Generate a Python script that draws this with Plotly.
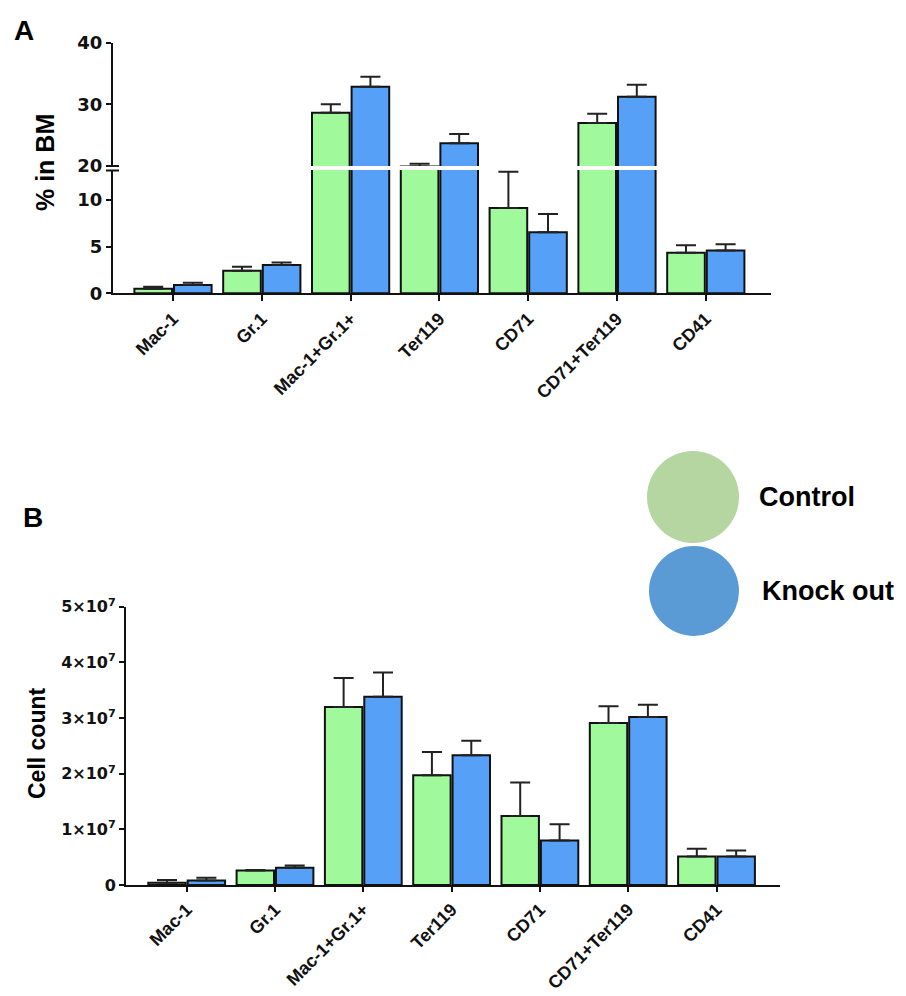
import plotly.graph_objects as go

# ---------------- data ----------------
categories = ["Mac-1", "Gr.1", "Mac-1+Gr.1+", "Ter119", "CD71", "CD71+Ter119", "CD41"]
series_names = ["Control", "Knock out"]

# Panel A: % in BM
pct_control = [0.50, 2.42, 28.65, 19.90, 9.14, 26.97, 4.35]
pct_control_err = [0.20, 0.43, 1.35, 0.45, 3.86, 1.51, 0.79]
pct_ko = [0.89, 3.03, 32.86, 23.68, 6.53, 31.24, 4.57]
pct_ko_err = [0.25, 0.27, 1.62, 1.51, 1.97, 1.95, 0.68]

# Panel B: cell count
count_control = [0.04e7, 0.26e7, 3.20e7, 1.97e7, 1.24e7, 2.91e7, 0.51e7]
count_control_err = [0.05e7, 0.01e7, 0.52e7, 0.42e7, 0.60e7, 0.30e7, 0.14e7]
count_ko = [0.08e7, 0.31e7, 3.38e7, 2.33e7, 0.80e7, 3.02e7, 0.51e7]
count_ko_err = [0.05e7, 0.04e7, 0.44e7, 0.26e7, 0.29e7, 0.22e7, 0.11e7]

pct_lower_ticks = [0, 5, 10]
pct_upper_ticks = [20, 30, 40]
count_ticks = [0, 1e7, 2e7, 3e7, 4e7, 5e7]
count_ticktext = ["0", "1×10<sup>7</sup>", "2×10<sup>7</sup>", "3×10<sup>7</sup>",
                  "4×10<sup>7</sup>", "5×10<sup>7</sup>"]

# ---------------- style ----------------
W, H = 906, 996
BAR_COLORS = ["#a0fa9c", "#56a0f8"]
LEG_COLORS = ["#b5d5a1", "#5b9bd5"]
FONT = "Liberation Sans, Arial"
NUMFONT = "DejaVu Sans"
TICKFONT = dict(family=NUMFONT, size=18, color="#111", weight=700)
CATFONT = dict(family=FONT, size=18, color="#111", weight=700)


def px_x(p):
    return p / W


def px_y(p):
    return 1 - p / H


fig = go.Figure()


def add_bars(vals, errs, color, name, xa, ya):
    fig.add_trace(go.Bar(
        x=categories, y=vals, name=name, xaxis=xa, yaxis=ya, showlegend=False,
        marker=dict(color=color, line=dict(color="#111", width=2)),
        error_y=dict(type="data", symmetric=False, array=errs,
                     arrayminus=[0] * len(errs), color="#222", thickness=2, width=10),
    ))


pct_sets = [(pct_control, pct_control_err), (pct_ko, pct_ko_err)]
count_sets = [(count_control, count_control_err), (count_ko, count_ko_err)]
for i, name in enumerate(series_names):
    add_bars(pct_sets[i][0], pct_sets[i][1], BAR_COLORS[i], name, "x", "y")
    add_bars(pct_sets[i][0], pct_sets[i][1], BAR_COLORS[i], name, "x2", "y2")
    add_bars(count_sets[i][0], count_sets[i][1], BAR_COLORS[i], name, "x3", "y3")

axis_common = dict(showline=True, linecolor="#111", linewidth=2, showgrid=False,
                   zeroline=False, ticks="outside", tickcolor="#111", tickwidth=2,
                   automargin=False)

rangeA = [(113 - 173) / 88.8, (771 - 173) / 88.8]
rangeB = [(126 - 186.7) / 88.3, (780 - 186.7) / 88.3]

fig.update_layout(
    width=W, height=H,
    margin=dict(l=0, r=0, t=0, b=0, pad=0, autoexpand=False),
    paper_bgcolor="white", plot_bgcolor="white",
    barmode="group", bargap=0.108, bargroupgap=0.05,
    xaxis=dict(domain=[px_x(113), px_x(771)], anchor="y", type="category", range=rangeA,
               ticklen=6, tickangle=-45, tickfont=CATFONT, **axis_common),
    yaxis=dict(domain=[px_y(293.3), px_y(170)], anchor="x", range=[0, 13.2],
               tickvals=pct_lower_ticks, ticklen=5, tickfont=TICKFONT, **axis_common),
    xaxis2=dict(domain=[px_x(113), px_x(771)], anchor="y2", type="category", range=rangeA,
                visible=False, automargin=False),
    yaxis2=dict(domain=[px_y(166), px_y(42.7)], anchor="x2", range=[20, 40],
                tickvals=pct_upper_ticks, ticklen=5, tickfont=TICKFONT, **axis_common),
    xaxis3=dict(domain=[px_x(126), px_x(780)], anchor="y3", type="category", range=rangeB,
                ticklen=5, tickangle=-45, tickfont=CATFONT, **axis_common),
    yaxis3=dict(domain=[px_y(885), px_y(606.7)], anchor="x3", range=[0, 5e7],
                tickvals=count_ticks, ticktext=count_ticktext, ticklen=5,
                tickfont=dict(family=NUMFONT, size=16, color="#111", weight=700),
                **axis_common),
)

# axis break marks on panel A
for yb in (166, 170.5):
    fig.add_shape(type="line", xref="paper", yref="paper",
                  x0=px_x(106), x1=px_x(119), y0=px_y(yb), y1=px_y(yb),
                  line=dict(color="#111", width=2))


def label(text, x, y, size, angle=0, family=FONT, xanchor="center"):
    fig.add_annotation(text=text, textangle=angle, xref="paper", yref="paper",
                       x=px_x(x), y=px_y(y), xanchor=xanchor, yanchor="middle",
                       showarrow=False,
                       font=dict(family=family, size=size, color="#000", weight=700))


# axis titles and panel letters
label("% in BM", 45, 163, 25, angle=-90)
label("Cell count", 37, 743, 23, angle=-90)
label("A", 24, 31, 28)
label("B", 33, 517, 28)

# legend: circles + labels
leg_centers = [(693, 497, 46), (694, 591, 45)]
leg_text_x = [757, 760]
for i, name in enumerate(series_names):
    cx, cy, r = leg_centers[i]
    fig.add_shape(type="circle", xref="paper", yref="paper",
                  x0=px_x(cx - r), x1=px_x(cx + r), y0=px_y(cy + r), y1=px_y(cy - r),
                  fillcolor=LEG_COLORS[i], line=dict(width=0))
    label(name, leg_text_x[i], cy, 27, xanchor="left")

fig.write_html("out.html", config={"displayModeBar": False},
               post_script="document.body.style.margin='0px';")
